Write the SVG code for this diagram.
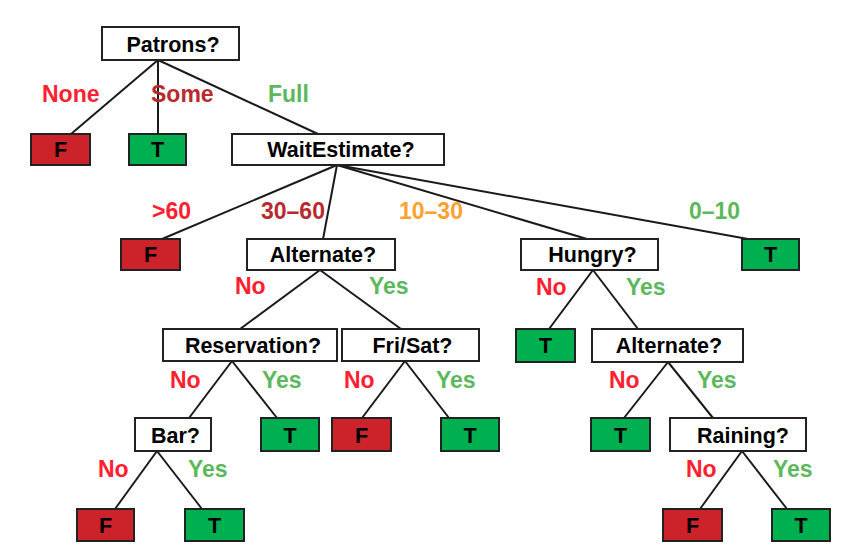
<svg xmlns="http://www.w3.org/2000/svg" width="861" height="552" viewBox="0 0 861 552">
<style>
.box{fill:#fff;stroke:#222;stroke-width:2}
.F{fill:#cc2229;stroke:#222;stroke-width:2}
.T{fill:#00b050;stroke:#222;stroke-width:2}
.nt{font-family:"Liberation Sans",Arial,sans-serif;font-weight:bold;font-size:21.5px;fill:#000;text-anchor:middle}
.lb{font-family:"Liberation Sans",Arial,sans-serif;font-weight:bold;font-size:23px}
.red{fill:#ff2030}
.dred{fill:#b82a30}
.grn{fill:#5cb85c}
.org{fill:#ffa030}
#edges line{stroke:#1a1a1a;stroke-width:2}
</style>
<rect width="861" height="552" fill="#fff"/>
<g id="edges">
<line x1="158" y1="60" x2="71" y2="134"/>
<line x1="158" y1="60" x2="158" y2="134"/>
<line x1="158" y1="60" x2="318" y2="134"/>
<line x1="337" y1="165" x2="162" y2="239"/>
<line x1="337" y1="165" x2="323" y2="239"/>
<line x1="337" y1="165" x2="587" y2="239"/>
<line x1="337" y1="165" x2="748" y2="239"/>
<line x1="320" y1="270" x2="240" y2="329"/>
<line x1="320" y1="270" x2="401" y2="329"/>
<line x1="593" y1="270" x2="549" y2="329"/>
<line x1="593" y1="270" x2="638" y2="329"/>
<line x1="232" y1="361" x2="189" y2="418"/>
<line x1="232" y1="361" x2="277" y2="418"/>
<line x1="405" y1="361" x2="362" y2="418"/>
<line x1="405" y1="361" x2="449" y2="418"/>
<line x1="668" y1="362" x2="624" y2="418"/>
<line x1="668" y1="362" x2="713" y2="418"/>
<line x1="157" y1="451" x2="115" y2="509"/>
<line x1="157" y1="451" x2="202" y2="509"/>
<line x1="742" y1="451" x2="700" y2="509"/>
<line x1="742" y1="451" x2="787" y2="509"/>
</g>
<g id="labels" class="lb">
<text class="red" x="42" y="102">None</text>
<text class="dred" x="151" y="102">Some</text>
<text class="grn" x="268" y="102">Full</text>
<text class="red" x="152" y="219">&gt;60</text>
<text class="dred" x="261" y="219">30–60</text>
<text class="org" x="399" y="219">10–30</text>
<text class="grn" x="689" y="219">0–10</text>
<text class="red" x="235" y="294">No</text>
<text class="grn" x="369" y="294">Yes</text>
<text class="red" x="536" y="295">No</text>
<text class="grn" x="626" y="295">Yes</text>
<text class="red" x="170" y="388">No</text>
<text class="grn" x="262" y="388">Yes</text>
<text class="red" x="344" y="388">No</text>
<text class="grn" x="436" y="388">Yes</text>
<text class="red" x="609" y="388">No</text>
<text class="grn" x="697" y="388">Yes</text>
<text class="red" x="98" y="477">No</text>
<text class="grn" x="188" y="477">Yes</text>
<text class="red" x="686" y="477">No</text>
<text class="grn" x="773" y="477">Yes</text>
</g>
<g id="patrons"><rect class="box" x="102" y="27" width="137" height="33"/><text class="nt" x="173" y="52">Patrons?</text></g>
<g id="f1"><rect class="F" x="31" y="134" width="59" height="31"/><text class="nt" x="60.5" y="157">F</text></g>
<g id="t1"><rect class="T" x="129" y="134" width="57" height="31"/><text class="nt" x="157.5" y="157">T</text></g>
<g id="waitestimate"><rect class="box" x="232" y="134" width="212" height="31"/><text class="nt" x="341" y="157">WaitEstimate?</text></g>
<g id="f2"><rect class="F" x="121" y="239" width="59" height="31"/><text class="nt" x="150.5" y="262">F</text></g>
<g id="alternate1"><rect class="box" x="247" y="239" width="148" height="31"/><text class="nt" x="323" y="262">Alternate?</text></g>
<g id="hungry"><rect class="box" x="521" y="239" width="137" height="31"/><text class="nt" x="592.5" y="262">Hungry?</text></g>
<g id="t2"><rect class="T" x="742" y="239" width="57" height="31"/><text class="nt" x="770.5" y="262">T</text></g>
<g id="reservation"><rect class="box" x="163" y="329" width="174" height="32"/><text class="nt" x="253" y="353">Reservation?</text></g>
<g id="frisat"><rect class="box" x="342" y="329" width="137" height="32"/><text class="nt" x="412.5" y="353">Fri/Sat?</text></g>
<g id="t3"><rect class="T" x="516" y="329" width="59" height="33"/><text class="nt" x="545.5" y="353">T</text></g>
<g id="alternate2"><rect class="box" x="592" y="329" width="151" height="33"/><text class="nt" x="669" y="353">Alternate?</text></g>
<g id="bar"><rect class="box" x="135" y="418" width="76" height="33"/><text class="nt" x="175.5" y="443">Bar?</text></g>
<g id="t4"><rect class="T" x="261" y="418" width="58" height="33"/><text class="nt" x="290" y="443">T</text></g>
<g id="f3"><rect class="F" x="332" y="418" width="59" height="33"/><text class="nt" x="361.5" y="443">F</text></g>
<g id="t5"><rect class="T" x="441" y="418" width="58" height="33"/><text class="nt" x="470" y="443">T</text></g>
<g id="t6"><rect class="T" x="591" y="418" width="59" height="33"/><text class="nt" x="620.5" y="443">T</text></g>
<g id="raining"><rect class="box" x="670" y="418" width="136" height="33"/><text class="nt" x="743" y="443">Raining?</text></g>
<g id="f4"><rect class="F" x="77" y="509" width="57" height="32"/><text class="nt" x="105.5" y="533">F</text></g>
<g id="t7"><rect class="T" x="185" y="509" width="59" height="32"/><text class="nt" x="214.5" y="533">T</text></g>
<g id="f5"><rect class="F" x="663" y="509" width="59" height="32"/><text class="nt" x="692.5" y="533">F</text></g>
<g id="t8"><rect class="T" x="772" y="509" width="58" height="32"/><text class="nt" x="801" y="533">T</text></g>
</svg>
